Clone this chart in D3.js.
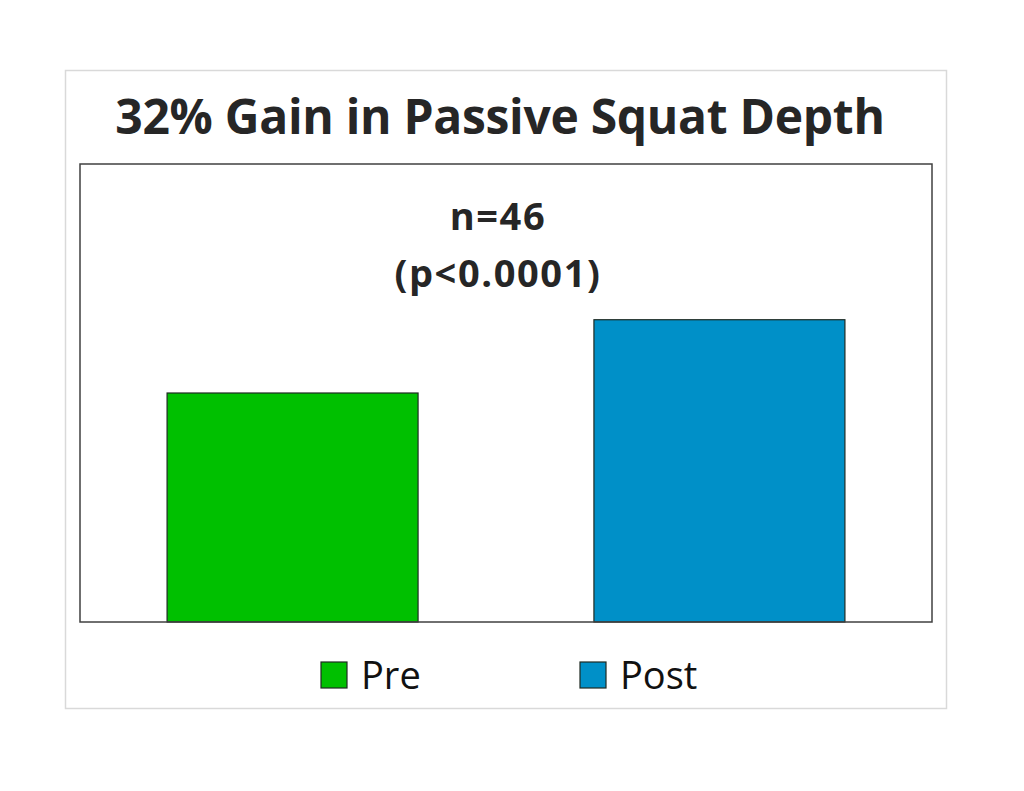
<!DOCTYPE html>
<html>
<head>
<meta charset="utf-8">
<script src="https://cdn.jsdelivr.net/npm/d3@7"></script>
<style>
  body { margin: 0; background: #fff; }
  text { font-family: "Open Sans", sans-serif; fill: #262626; }
</style>
</head>
<body>
<div id="chart"></div>
<script>
// chart data
var categories = ['Pre', 'Post'];
var values = [1.0, 1.32];
var colors = ['#00c000', '#0090c8'];
var titleText = '32% Gain in Passive Squat Depth';
var noteLines = ['n=46', '(p<0.0001)'];

var svgWidth = 1024;
var svgHeight = 791;

var plot = { left: 80, top: 164, right: 932, bottom: 622 };

var svg = d3.select('#chart')
    .append('svg')
    .attr('width', svgWidth)
    .attr('height', svgHeight);

// outer chart frame
svg.append('rect')
    .attr('x', 65.5)
    .attr('y', 70.5)
    .attr('width', 881)
    .attr('height', 638)
    .attr('fill', 'none')
    .attr('stroke', '#d9d9d9')
    .attr('stroke-width', 1.5);

var xScale = d3.scaleBand()
    .domain(categories)
    .range([plot.left, plot.right])
    .paddingInner(0.412)
    .paddingOuter(0.204);

var yScale = d3.scaleLinear()
    .domain([0, 2])
    .range([plot.bottom, plot.top]);

// bars
svg.selectAll('.bar')
    .data(categories)
    .enter()
    .append('rect')
    .attr('class', 'bar')
    .attr('x', d => xScale(d))
    .attr('y', (d, i) => yScale(values[i]))
    .attr('width', xScale.bandwidth())
    .attr('height', (d, i) => yScale(0) - yScale(values[i]))
    .attr('fill', (d, i) => colors[i])
    .attr('stroke', '#1e2a22')
    .attr('stroke-width', 1.2);

// plot area border
svg.append('rect')
    .attr('x', plot.left)
    .attr('y', plot.top)
    .attr('width', plot.right - plot.left)
    .attr('height', plot.bottom - plot.top)
    .attr('fill', 'none')
    .attr('stroke', '#404040')
    .attr('stroke-width', 1.5);

// title
svg.append('text')
    .attr('x', 500)
    .attr('y', 134)
    .attr('text-anchor', 'middle')
    .attr('font-weight', 'bold')
    .attr('font-size', 48)
    .attr('letter-spacing', -0.3)
    .text(titleText);

// annotation
var noteY = [230, 287];
svg.selectAll('.note')
    .data(noteLines)
    .enter()
    .append('text')
    .attr('class', 'note')
    .attr('x', 498)
    .attr('y', (d, i) => noteY[i])
    .attr('text-anchor', 'middle')
    .attr('font-weight', 'bold')
    .attr('font-size', 38)
    .attr('letter-spacing', 1.6)
    .text(d => d);

// legend
var legendX = [321, 580];
var legend = svg.selectAll('.legend')
    .data(categories)
    .enter()
    .append('g')
    .attr('class', 'legend')
    .attr('transform', (d, i) => `translate(${legendX[i]}, 662)`);

legend.append('rect')
    .attr('width', 26)
    .attr('height', 26)
    .attr('fill', (d, i) => colors[i])
    .attr('stroke', '#1e2a22')
    .attr('stroke-width', 1.2);

legend.append('text')
    .attr('x', 40)
    .attr('y', 27)
    .attr('font-size', 38)
    .style('fill', '#111')
    .text(d => d);
</script>
</body>
</html>
